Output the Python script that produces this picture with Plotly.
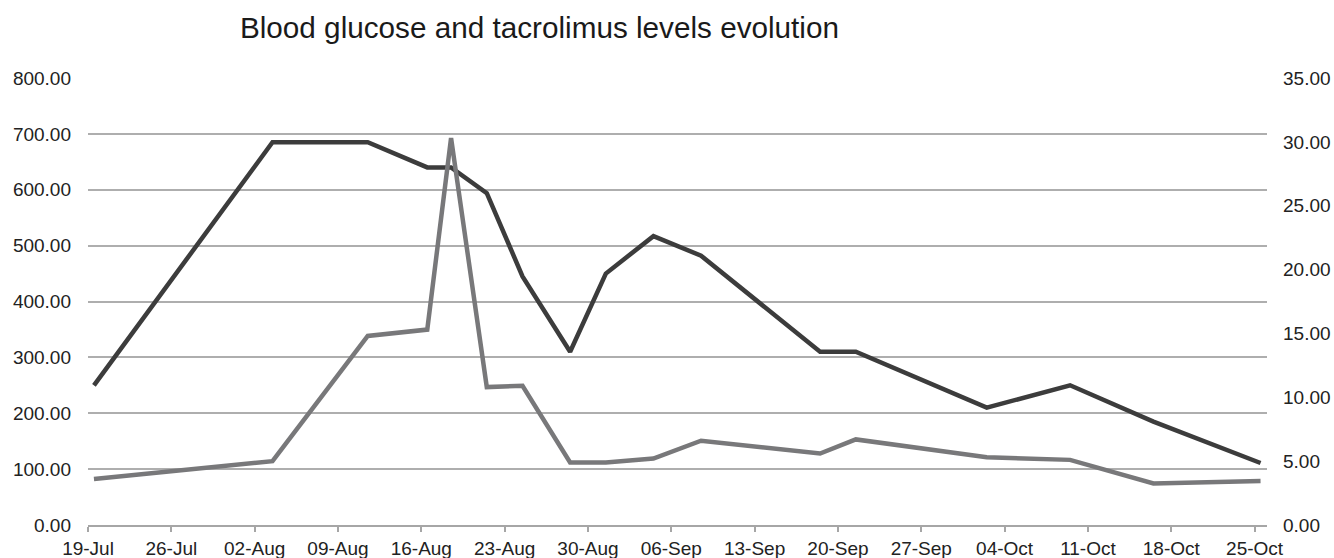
import pandas as pd
import plotly.graph_objects as go

dates = ["2021-07-19", "2021-08-03", "2021-08-11", "2021-08-16", "2021-08-18",
         "2021-08-21", "2021-08-24", "2021-08-28", "2021-08-31", "2021-09-04",
         "2021-09-08", "2021-09-18", "2021-09-21", "2021-10-02", "2021-10-09",
         "2021-10-16", "2021-10-25"]
glucose = [250, 685, 685, 640, 640, 594, 445, 310, 450, 517, 482, 310, 310, 210, 250, 185, 111]
tacrolimus = [3.6, 5.0, 14.8, 15.3, 30.3, 10.8, 10.9, 4.9, 4.9, 5.2, 6.6, 5.6, 6.7, 5.3, 5.1, 3.25, 3.45]

# Excel date axis places each point at the middle of its day
x = pd.to_datetime(dates) + pd.Timedelta(hours=12)

font_family = "Liberation Sans, Arial, sans-serif"

fig = go.Figure()
fig.add_trace(go.Scatter(x=x, y=glucose, mode="lines", name="Blood glucose",
                         line=dict(color="#3c3c3c", width=4.5)))
fig.add_trace(go.Scatter(x=x, y=tacrolimus, mode="lines", name="Tacrolimus",
                         yaxis="y2", line=dict(color="#78787a", width=4.5)))

fig.update_layout(
    width=1334, height=558,
    margin=dict(l=88, r=67, t=78, b=33),
    plot_bgcolor="white", paper_bgcolor="white",
    showlegend=False,
    font=dict(family=font_family, size=19, color="#222222"),
    title=dict(text="Blood glucose and tacrolimus levels evolution",
               x=0.4044, xref="container", xanchor="center",
               y=0.9507, yref="container", yanchor="middle",
               font=dict(size=29.7, color="#1a1a1a", family=font_family)),
    xaxis=dict(type="date", range=["2021-07-19", "2021-10-26 01:00"],
               tick0="2021-07-19", dtick=7 * 86400000, tickformat="%d-%b",
               showgrid=False, showline=True, linecolor="#a6a6a6", linewidth=1.5,
               ticks="outside", ticklen=5, tickcolor="#a6a6a6", tickwidth=1.5,
               zeroline=False, automargin=False),
    yaxis=dict(range=[0, 800], dtick=100, tickformat=".2f",
               showgrid=True, gridcolor="#aeaeae", gridwidth=1.5,
               zeroline=False, ticks="", ticklabelstandoff=16, automargin=False),
    yaxis2=dict(range=[0, 35], dtick=5, tickformat=".2f", overlaying="y",
                side="right", showgrid=False, zeroline=False, ticks="",
                ticklabelstandoff=15, automargin=False),
)

# remove the default 8px page margin so the figure fills the window exactly
fig.write_html("out.html",
               config={"displayModeBar": False},
               post_script="document.body.style.margin='0';document.body.style.overflow='hidden';")
